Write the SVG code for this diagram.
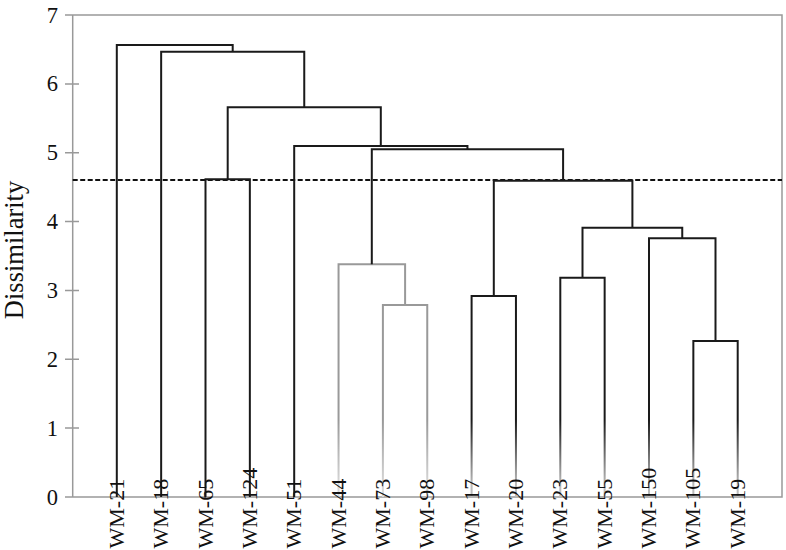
<svg xmlns="http://www.w3.org/2000/svg" width="786" height="550" viewBox="0 0 786 550">
<defs>
<style>
.axis{stroke:#999;stroke-width:1.5;fill:none}
.link{stroke:#1a1a1a;stroke-width:2;fill:none;stroke-linejoin:miter}
.fade{stroke:url(#fadeDark)}
.gray{stroke:#999;stroke-width:2;fill:none}
.tick{font-family:"Liberation Serif","Times New Roman",serif;font-size:22.5px;fill:#111;text-anchor:end}
.leaf{font-family:"Liberation Serif","Times New Roman",serif;font-size:22px;fill:#111}
.ylab{font-family:"Liberation Serif","Times New Roman",serif;font-size:26.5px;fill:#111;text-anchor:middle}
</style>
<linearGradient id="fadeDark" gradientUnits="userSpaceOnUse" x1="0" y1="420" x2="0" y2="485">
<stop offset="0" stop-color="#1a1a1a"/>
<stop offset="1" stop-color="#bbbbbb"/>
</linearGradient>
<linearGradient id="fadeGray" gradientUnits="userSpaceOnUse" x1="0" y1="420" x2="0" y2="485">
<stop offset="0" stop-color="#999999"/>
<stop offset="1" stop-color="#d8d8d8"/>
</linearGradient>
</defs>
<rect width="786" height="550" fill="#fff"/>
<g id="axes">
<path class="axis" d="M72.7,15 V497 M65,15 H782 V497 H65"/>
<path class="axis" d="M65,83.9 H79 M65,152.7 H79 M65,221.6 H79 M65,290.4 H79 M65,359.3 H79 M65,428.1 H79"/>
<text class="tick" x="58" y="22.5">7</text>
<text class="tick" x="58" y="91.4">6</text>
<text class="tick" x="58" y="160.2">5</text>
<text class="tick" x="58" y="229.1">4</text>
<text class="tick" x="58" y="297.9">3</text>
<text class="tick" x="58" y="366.8">2</text>
<text class="tick" x="58" y="435.6">1</text>
<text class="tick" x="58" y="504.5">0</text>
<text class="ylab" transform="translate(23,250) rotate(-90)">Dissimilarity</text>
</g>
<g id="threshold">
<line x1="72.7" y1="180" x2="782" y2="180" stroke="#111" stroke-width="1.8" stroke-dasharray="5 2.5"/>
</g>
<g id="connectors">
<path class="link fade" d="M693.35,497 V341 H737.7 V497"/>
<path class="link fade" d="M649,497 V238.3 H715.5 V341"/>
<path class="link fade" d="M560.3,497 V277.7 H604.65 V497"/>
<path class="link" d="M582.5,277.7 V227.7 H682.25 V238.3"/>
<path class="link fade" d="M471.6,497 V296 H515.95 V497"/>
<path class="link" d="M493.8,296 V180.7 H632.4 V227.7"/>
<path class="gray" style="stroke:url(#fadeGray)" d="M382.9,497 V305 H427.25 V497"/>
<path class="gray" style="stroke:url(#fadeGray)" d="M338.55,497 V264.3 H405.1 V305"/>
<path class="link" d="M371.8,264.3 V149.3 H563.1 V180.7"/>
<path class="link" d="M294.2,497 V146 H467.45 V149.3"/>
<path class="link" d="M205.5,497 V179.3 H249.85 V497"/>
<path class="link" d="M227.7,179.3 V107.3 H380.8 V146"/>
<path class="link" d="M161.15,497 V51.7 H304.25 V107.3"/>
<path class="link" d="M116.8,497 V45 H232.7 V51.7"/>
</g>
<g id="leaves">
<g id="n-WM-21"><text class="leaf" transform="translate(123.8,548.5) rotate(-90)">WM-21</text></g>
<g id="n-WM-18"><text class="leaf" transform="translate(168.15,548.5) rotate(-90)">WM-18</text></g>
<g id="n-WM-65"><text class="leaf" transform="translate(212.5,548.5) rotate(-90)">WM-65</text></g>
<g id="n-WM-124"><text class="leaf" transform="translate(256.85,548.5) rotate(-90)">WM-124</text></g>
<g id="n-WM-51"><text class="leaf" transform="translate(301.2,548.5) rotate(-90)">WM-51</text></g>
<g id="n-WM-44"><text class="leaf" transform="translate(345.55,548.5) rotate(-90)">WM-44</text></g>
<g id="n-WM-73"><text class="leaf" transform="translate(389.9,548.5) rotate(-90)">WM-73</text></g>
<g id="n-WM-98"><text class="leaf" transform="translate(434.25,548.5) rotate(-90)">WM-98</text></g>
<g id="n-WM-17"><text class="leaf" transform="translate(478.6,548.5) rotate(-90)">WM-17</text></g>
<g id="n-WM-20"><text class="leaf" transform="translate(522.95,548.5) rotate(-90)">WM-20</text></g>
<g id="n-WM-23"><text class="leaf" transform="translate(567.3,548.5) rotate(-90)">WM-23</text></g>
<g id="n-WM-55"><text class="leaf" transform="translate(611.65,548.5) rotate(-90)">WM-55</text></g>
<g id="n-WM-150"><text class="leaf" transform="translate(656,548.5) rotate(-90)">WM-150</text></g>
<g id="n-WM-105"><text class="leaf" transform="translate(700.35,548.5) rotate(-90)">WM-105</text></g>
<g id="n-WM-19"><text class="leaf" transform="translate(744.7,548.5) rotate(-90)">WM-19</text></g>
</g>
</svg>
